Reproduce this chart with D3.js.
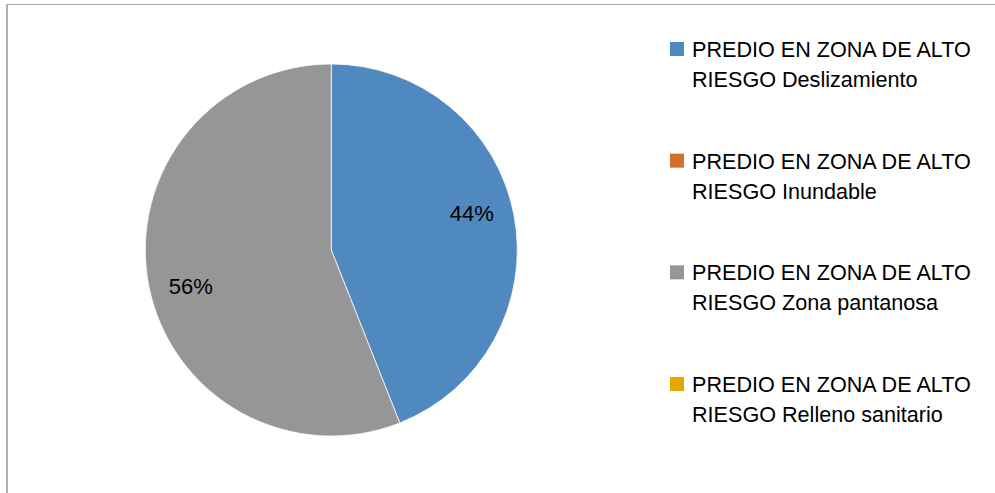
<!DOCTYPE html>
<html>
<head>
<meta charset="utf-8">
<script src="https://cdn.jsdelivr.net/npm/d3@7"></script>
<style>
  html, body { margin: 0; padding: 0; background: #fff; }
  svg { display: block; }
  text { font-family: "Liberation Sans", Arial, sans-serif; fill: #000; }
</style>
</head>
<body>
<svg id="chart" width="995" height="493"></svg>
<script>
const categories = [
  "PREDIO EN ZONA DE ALTO RIESGO Deslizamiento",
  "PREDIO EN ZONA DE ALTO RIESGO Inundable",
  "PREDIO EN ZONA DE ALTO RIESGO Zona pantanosa",
  "PREDIO EN ZONA DE ALTO RIESGO Relleno sanitario"
];
const legendLine1 = ["PREDIO EN ZONA DE ALTO", "PREDIO EN ZONA DE ALTO", "PREDIO EN ZONA DE ALTO", "PREDIO EN ZONA DE ALTO"];
const legendLine2 = ["RIESGO Deslizamiento", "RIESGO Inundable", "RIESGO Zona pantanosa", "RIESGO Relleno sanitario"];
const values = [44, 0, 56, 0];
const colors = ["#4f89bf", "#d3702a", "#969696", "#e2a900"];

const svg = d3.select("#chart");

// frame
svg.append("line").attr("x1", 6).attr("x2", 995).attr("y1", 4.5).attr("y2", 4.5)
  .attr("stroke", "#a8a8a8").attr("stroke-width", 1);
svg.append("line").attr("x1", 7).attr("x2", 7).attr("y1", 4).attr("y2", 493)
  .attr("stroke", "#b0b0b0").attr("stroke-width", 2);

const cx = 331.3, cy = 250, r = 186;
const color = d3.scaleOrdinal().domain(categories).range(colors);
const pie = d3.pie().sort(null).value(d => d.v);
const data = categories.map((c, i) => ({ c, v: values[i] }));
const arcs = pie(data);
const arc = d3.arc().innerRadius(0).outerRadius(r);

const g = svg.append("g").attr("transform", `translate(${cx},${cy})`);
g.selectAll("path").data(arcs.filter(a => a.data.v > 0)).join("path")
  .attr("d", arc)
  .attr("fill", d => color(d.data.c))
  .attr("stroke", "#ffffff")
  .attr("stroke-width", 0.75);

const total = d3.sum(values);
const lrx = 143, lry = 195;
g.selectAll("text.lbl").data(arcs.filter(a => a.data.v > 0)).join("text")
  .attr("class", "lbl")
  .attr("x", d => lrx * Math.sin((d.startAngle + d.endAngle) / 2))
  .attr("y", d => -lry * Math.cos((d.startAngle + d.endAngle) / 2))
  .attr("text-anchor", "middle")
  .attr("dy", "0.36em")
  .style("font-size", "22px")
  .text(d => Math.round(d.data.v / total * 100) + "%");

// legend
const ly = d3.scalePoint().domain(categories).range([57, 392]);
const lg = svg.append("g");
const items = lg.selectAll("g").data(categories).join("g")
  .attr("transform", d => `translate(0,${ly(d)})`);
items.append("rect").attr("x", 670).attr("y", -15).attr("width", 14).attr("height", 14)
  .attr("fill", d => color(d));
items.append("text").attr("x", 692).attr("y", 0).style("font-size", "21.6px")
  .text((d, i) => legendLine1[i]);
items.append("text").attr("x", 692).attr("y", 30).style("font-size", "21.6px")
  .text((d, i) => legendLine2[i]);
</script>
</body>
</html>
